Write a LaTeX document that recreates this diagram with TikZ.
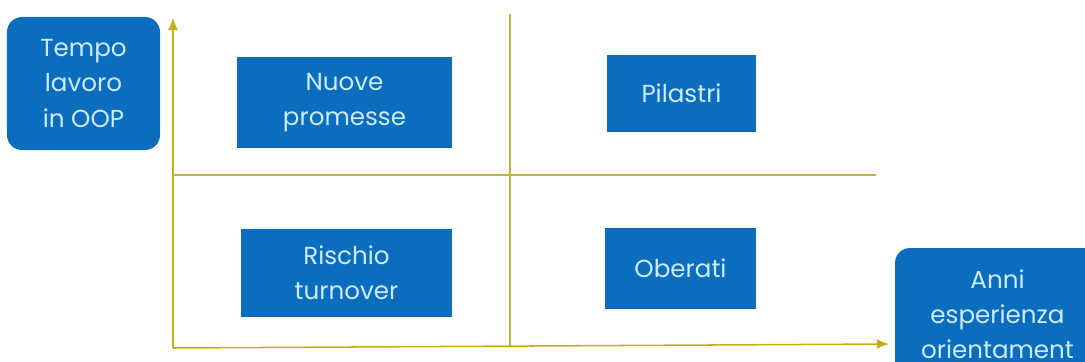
\documentclass[tikz,border=0pt]{standalone}
\usepackage{fontspec}
\setmainfont{Poppins}
\usepackage{xcolor}
\usetikzlibrary{arrows.meta,positioning}
\definecolor{boxblue}{HTML}{0B6DBE}
\definecolor{boxtext}{HTML}{CDEBFF}
\definecolor{axisgold}{HTML}{C9AC1A}
\definecolor{gridolive}{HTML}{BDB43A}
\tikzset{
  quadbox/.style={
    rectangle, fill=boxblue, draw=none, inner sep=0pt,
    text=boxtext, align=center, font=\fontsize{21}{30}\selectfont,
  },
  axisbox/.style={
    quadbox, rounded corners=4.5mm,
  },
  axisArrow/.style={
    -{Latex[length=3.6mm,width=3mm]}, line width=1.3pt, draw=axisgold,
  },
  gridLine/.style={
    line width=1pt, draw=gridolive,
  },
}

\begin{document}
\begin{tikzpicture}[x=0.03cm, y=-0.03cm]

\useasboundingbox (0,0) rectangle (1085,362);
\clip (0,0) rectangle (1085,362);

% axis labels
\node[axisbox, minimum width=4.59cm, minimum height=3.99cm]
  (tempo) at (83.5, 83.5) {Tempo\\lavoro\\in OOP};
\node[axisbox, minimum width=6.15cm, minimum height=3.96cm]
  (anni) at (997.5, 314) {Anni\\esperienza\\orientament};

% quadrant labels
\node[quadbox, minimum width=6.45cm, minimum height=2.73cm]
  (nuove) at (344.5, 102.5) {Nuove\\promesse};
\node[quadbox, minimum width=4.47cm, minimum height=2.31cm]
  (pilastri) at (681.5, 93.5) {Pilastri};
\node[quadbox, minimum width=6.33cm, minimum height=2.64cm]
  (rischio) at (346.5, 273) {Rischio\\turnover};
\node[quadbox, minimum width=4.53cm, minimum height=2.43cm]
  (oberati) at (680.5, 268.5) {Oberati};

% axes
\coordinate (origin) at (173, 348);
\coordinate (yTop) at (173, 18);
\coordinate (xEnd) at (889, 344);
\draw[axisArrow] (origin) -- (yTop);
\draw[axisArrow] (origin) -- (xEnd);

% quadrant dividers
\coordinate (midTop) at (510, 14);
\coordinate (midBottom) at (510, 346);
\coordinate (midLeft) at (173, 175);
\coordinate (midRight) at (876, 175);
\draw[gridLine] (midTop) -- (midBottom);
\draw[gridLine] (midLeft) -- (midRight);

\end{tikzpicture}
\end{document}
